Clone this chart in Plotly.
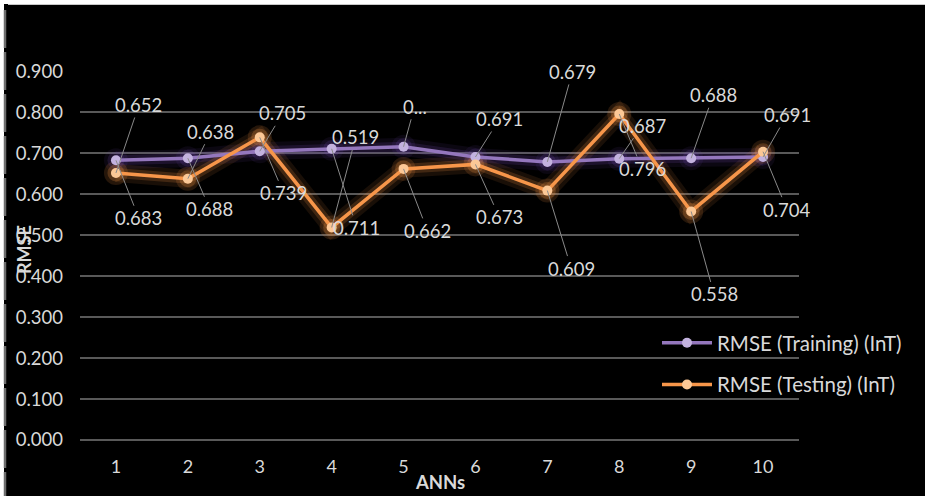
import plotly.graph_objects as go

# ---- data ----
anns = [1, 2, 3, 4, 5, 6, 7, 8, 9, 10]
rmse_training = [0.683, 0.688, 0.705, 0.711, 0.716, 0.691, 0.679, 0.687, 0.688, 0.691]
rmse_testing = [0.652, 0.638, 0.739, 0.519, 0.662, 0.673, 0.609, 0.796, 0.558, 0.704]
y_ticks = [0.0, 0.1, 0.2, 0.3, 0.4, 0.5, 0.6, 0.7, 0.8, 0.9]

training_labels = [f"{v:.3f}" for v in rmse_training]
training_labels[4] = "0..."   # truncated in the original chart
testing_labels = [f"{v:.3f}" for v in rmse_testing]

# label offsets (pixels) of the data callouts
train_off = [(23, 58), (22, 51), (23, -38), (25, 79), (11, -40),
             (24, -38), (25, -90), (23, -33), (22, -63), (24, -42)]
test_off = [(23, -68), (23, -47), (24, 56), (24, -90), (24, 62),
            (24, 53), (24, 78), (23, 55), (23, 83), (24, 58)]

FONT = "Lato, 'Open Sans', sans-serif"
TXT = "#d9d9d9"
PURPLE = "#9477bd"
PURPLE_M = "#c3b2df"
ORANGE = "#f7964a"
ORANGE_M = "#fcc896"

fig = go.Figure()

# soft glow layers
for w, ms, a in [(18, 24, 0.10), (10, 17, 0.18)]:
    fig.add_trace(go.Scatter(x=anns, y=rmse_training, mode="lines+markers",
                             line=dict(color=f"rgba(110,70,170,{a})", width=w),
                             marker=dict(size=ms, color=f"rgba(110,70,170,{a})"),
                             showlegend=False, hoverinfo="skip"))
    fig.add_trace(go.Scatter(x=anns, y=rmse_testing, mode="lines+markers",
                             line=dict(color=f"rgba(247,150,70,{a})", width=w),
                             marker=dict(size=ms, color=f"rgba(247,150,70,{a + 0.05})"),
                             showlegend=False, hoverinfo="skip"))

fig.add_trace(go.Scatter(x=anns, y=rmse_training, mode="lines+markers",
                         name="RMSE (Training) (InT)", legendgroup="a",
                         line=dict(color=PURPLE, width=3.5),
                         marker=dict(size=10, color=PURPLE_M)))
fig.add_trace(go.Scatter(x=anns, y=rmse_testing, mode="lines+markers",
                         name="RMSE (Testing) (InT)", legendgroup="b",
                         line=dict(color=ORANGE, width=3.5),
                         marker=dict(size=10, color=ORANGE_M)))

annotations = []
for x, y, t, (ax, ay) in zip(anns, rmse_training, training_labels, train_off):
    annotations.append(dict(x=x, y=y, xref="x", yref="y", text=t, showarrow=True,
                            ax=ax, ay=ay, arrowhead=0, arrowwidth=1, arrowcolor="#8a8a8a",
                            standoff=0, startstandoff=0,
                            font=dict(family=FONT, size=18.5, color=TXT)))
for x, y, t, (ax, ay) in zip(anns, rmse_testing, testing_labels, test_off):
    annotations.append(dict(x=x, y=y, xref="x", yref="y", text=t, showarrow=True,
                            ax=ax, ay=ay, arrowhead=0, arrowwidth=1, arrowcolor="#8a8a8a",
                            standoff=0, startstandoff=0,
                            font=dict(family=FONT, size=18.5, color=TXT)))

# axis titles
annotations.append(dict(x=(440 - 80) / 719, y=(440 - 482) / 369, xref="paper", yref="paper",
                        text="<b>ANNs</b>", showarrow=False, xanchor="center", yanchor="middle",
                        font=dict(family=FONT, size=18.5, color=TXT)))
annotations.append(dict(x=(24 - 80) / 719, y=(440 - 250) / 369, xref="paper", yref="paper",
                        text="<b>RMSE</b>", showarrow=False, textangle=-90,
                        xanchor="center", yanchor="middle",
                        font=dict(family=FONT, size=18, color=TXT)))

def px_x(p):
    return (p - 80) / 719

def px_y(p):
    return (440 - p) / 369

shapes = [
    dict(type="rect", xref="paper", yref="paper", x0=px_x(0), x1=px_x(925),
         y0=px_y(4), y1=px_y(-2), fillcolor="white", line=dict(width=0), layer="above"),
    dict(type="line", xref="paper", yref="paper", x0=px_x(8), x1=px_x(925),
         y0=px_y(4.5), y1=px_y(4.5), line=dict(color="#c8c8c8", width=1), layer="above"),
    dict(type="rect", xref="paper", yref="paper", x0=px_x(-2), x1=px_x(4),
         y0=px_y(500), y1=px_y(0), fillcolor="white", line=dict(width=0), layer="above"),
    dict(type="line", xref="paper", yref="paper", x0=px_x(5), x1=px_x(5),
         y0=px_y(10), y1=px_y(500), line=dict(color="#6e6e6e", width=2.5, dash="38px,4px"),
         layer="above"),
]

fig.update_layout(
    width=925, height=496,
    margin=dict(l=80, r=126, t=71, b=56),
    paper_bgcolor="black", plot_bgcolor="black",
    font=dict(family=FONT, size=18, color=TXT),
    showlegend=True,
    legend=dict(x=px_x(657), y=px_y(323), xanchor="left", yanchor="top",
                bgcolor="rgba(0,0,0,0)", font=dict(family=FONT, size=20.5, color=TXT),
                tracegroupgap=12, traceorder="grouped", itemwidth=50),
    annotations=annotations,
    shapes=shapes,
)
fig.update_xaxes(range=[0.5, 10.5], tickvals=anns, ticktext=[str(a) for a in anns],
                 showgrid=False, zeroline=False, showline=False, ticks="",
                 ticklabelstandoff=14, tickfont=dict(family=FONT, size=18, color=TXT))
fig.update_yaxes(range=[0, 0.901], tickvals=y_ticks, ticktext=[f"{v:.3f}" for v in y_ticks],
                 showgrid=True, gridcolor="#595959", gridwidth=1.5,
                 zeroline=True, zerolinecolor="#595959", zerolinewidth=1.5,
                 showline=False, ticks="", ticklabelstandoff=16,
                 tickfont=dict(family=FONT, size=18.5, color=TXT))

fig.write_html("out.html", config={"displayModeBar": False},
               post_script="document.body.style.margin='0';document.body.style.overflow='hidden';")
